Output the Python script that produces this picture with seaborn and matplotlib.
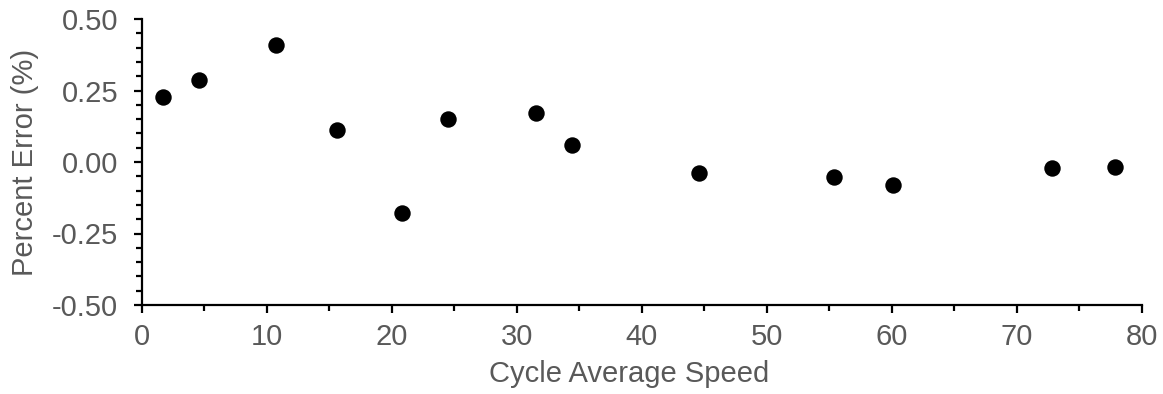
import matplotlib
matplotlib.use("Agg")
import matplotlib.pyplot as plt
from matplotlib.ticker import MultipleLocator, FormatStrFormatter
import seaborn as sns
import pandas as pd

speed = [1.73, 4.61, 10.74, 15.6, 20.8, 24.53, 31.54, 34.42, 44.58, 55.41, 60.13, 72.85, 77.86]
error = [0.229, 0.288, 0.410, 0.113, -0.178, 0.149, 0.171, 0.059, -0.040, -0.054, -0.080, -0.021, -0.016]

x_label = "Cycle Average Speed"
y_label = "Percent Error (%)"

sns.set_style("ticks")
plt.rcParams['font.family'] = ['Liberation Sans', 'DejaVu Sans']

df = pd.DataFrame({"speed": speed, "error": error})

fig = plt.figure(figsize=(11.63, 3.94), dpi=100)
ax = fig.add_axes([141.7/1163, 89/394, 1000/1163, 286/394])

sns.scatterplot(data=df, x="speed", y="error", ax=ax, color="black",
                s=140, edgecolor="black", linewidth=0, clip_on=False, zorder=3)

ax.set_xlim(0, 80)
ax.set_ylim(-0.5, 0.5)
ax.xaxis.set_major_locator(MultipleLocator(10))
ax.xaxis.set_minor_locator(MultipleLocator(5))
ax.yaxis.set_major_locator(MultipleLocator(0.25))
ax.yaxis.set_minor_locator(MultipleLocator(0.05))
ax.yaxis.set_major_formatter(FormatStrFormatter('%.2f'))

for side in ["top", "right"]:
    ax.spines[side].set_visible(False)
for side in ["left", "bottom"]:
    ax.spines[side].set_linewidth(1.6)
    ax.spines[side].set_color("black")

grey = "#595959"
ax.tick_params(axis="both", which="major", length=6, width=1.6, color="black",
               labelsize=21, labelcolor=grey, direction="out")
ax.tick_params(axis="both", which="minor", length=4, width=1.6, color="black", direction="out")
ax.tick_params(axis="y", which="major", pad=11)
ax.tick_params(axis="x", which="major", pad=7)

ax.set_xlabel(x_label, fontsize=21, color=grey)
ax.set_ylabel(y_label, fontsize=21, color=grey)
ax.xaxis.set_label_coords(0.487, -0.192, transform=ax.transAxes)
ax.xaxis.label.set_va("top")
ax.yaxis.set_label_coords(-0.103, 0.5, transform=ax.transAxes)

fig.savefig("out.png", dpi=100)
